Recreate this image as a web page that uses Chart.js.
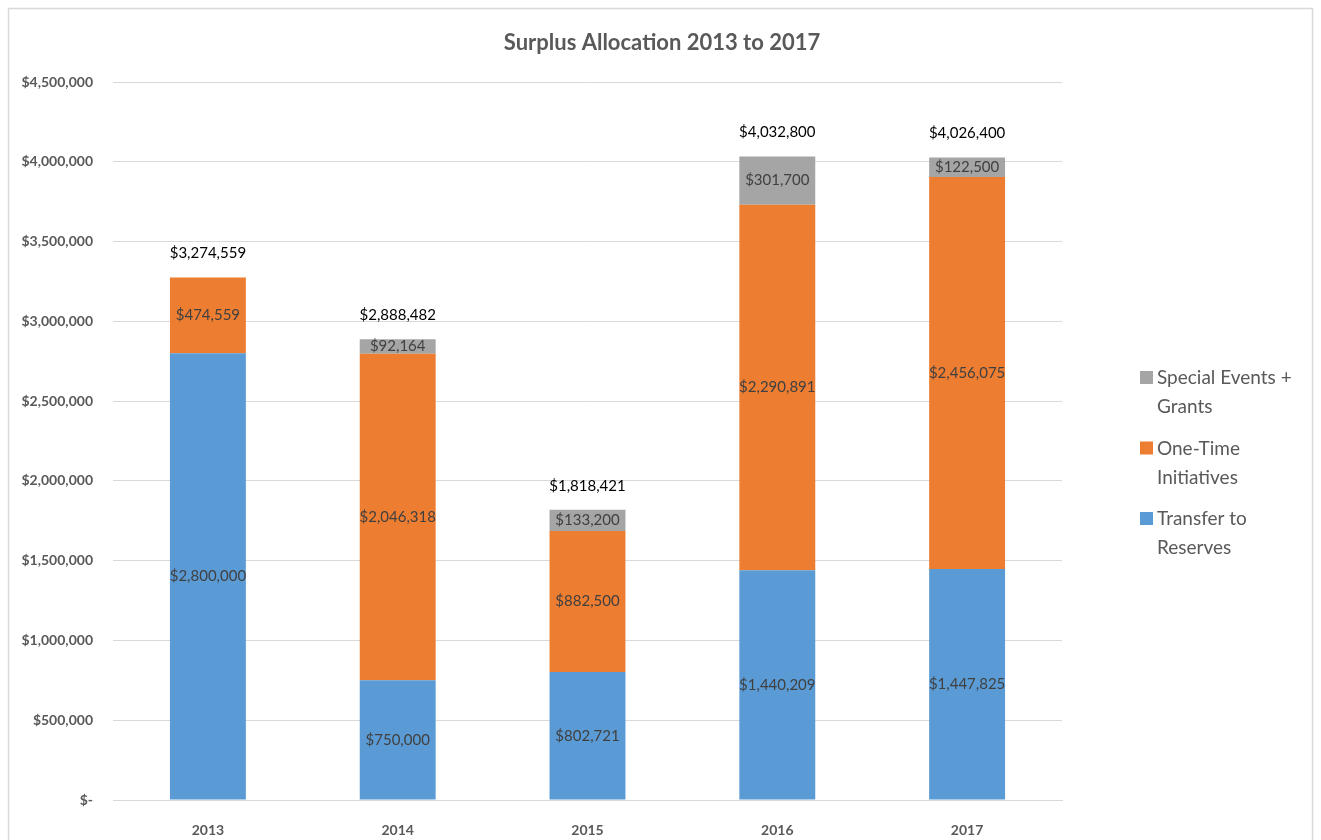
<!DOCTYPE html>
<html>
<head>
<meta charset="utf-8">
<script src="https://cdn.jsdelivr.net/npm/chart.js@4/dist/chart.umd.min.js"></script>
<style>
  html, body { margin: 0; padding: 0; background: #fff; overflow: hidden; }
  #wrap { position: relative; width: 1321px; height: 840px; }
</style>
</head>
<body>
<div id="wrap"><canvas id="grafico"></canvas></div>
<script>
const anios = ['2013', '2014', '2015', '2016', '2017'];
const reservas = [2800000, 750000, 802721, 1440209, 1447825];
const iniciativas = [474559, 2046318, 882500, 2290891, 2456075];
const eventos = [null, 92164, 133200, 301700, 122500];
const leyendaLineas = [
  ['Special Events +', 'Grants'],
  ['One-Time', 'Initiatives'],
  ['Transfer to', 'Reserves']
];
const titulo = 'Surplus Allocation 2013 to 2017';

const fuente = 'Lato, "Open Sans", sans-serif';
const money = v => '$' + Math.round(v).toLocaleString('en-US');

// etiquetas dentro de las barras + totales arriba
const etiquetas = {
  id: 'etiquetas',
  afterDatasetsDraw(chart) {
    const c = chart.ctx;
    c.save();
    c.textAlign = 'center';
    c.textBaseline = 'middle';
    c.font = '15px ' + fuente;
    c.fillStyle = '#404040';
    chart.data.datasets.forEach((ds, i) => {
      chart.getDatasetMeta(i).data.forEach((bar, j) => {
        const v = ds.data[j];
        if (!v) return;
        c.fillText(money(v), bar.x, (bar.y + bar.base) / 2);
      });
    });
    c.fillStyle = '#000';
    anios.forEach((a, j) => {
      const total = (reservas[j] || 0) + (iniciativas[j] || 0) + (eventos[j] || 0);
      const y = chart.scales.y.getPixelForValue(total);
      const x = chart.getDatasetMeta(0).data[j].x;
      c.fillText(money(total), x, y - 24);
    });
    c.restore();
  }
};

// leyenda a la derecha con texto en dos lineas, y titulo centrado en todo el grafico
const leyenda = {
  id: 'leyenda',
  afterDraw(chart) {
    const c = chart.ctx;
    c.save();
    c.font = 'bold 22px ' + fuente;
    c.fillStyle = '#595959';
    c.textAlign = 'center';
    c.textBaseline = 'middle';
    c.fillText(titulo, 662, 43);

    c.font = '19px ' + fuente;
    c.textAlign = 'left';
    const orden = [2, 1, 0];
    orden.forEach((dsi, k) => {
      const ds = chart.data.datasets[dsi];
      const y0 = 378 + k * 70.5;
      c.fillStyle = ds.backgroundColor;
      c.fillRect(1140, y0 - 7, 13, 13);
      c.fillStyle = '#595959';
      leyendaLineas[k].forEach((t, n) => c.fillText(t, 1157, y0 + n * 29));
    });
    c.restore();
  }
};

const marco = {
  id: 'marco',
  beforeDraw(chart) {
    const c = chart.ctx;
    c.save();
    c.fillStyle = '#fff';
    c.fillRect(0, 0, chart.width, chart.height);
    c.strokeStyle = '#d9d9d9';
    c.lineWidth = 1.5;
    c.strokeRect(8.5, 8.5, 1304, 845);
    c.restore();
  }
};

const ctx = document.getElementById('grafico').getContext('2d');
const chart = new Chart(ctx, {
  type: 'bar',
  data: {
    labels: anios,
    datasets: [
      { label: 'Transfer to Reserves', data: reservas, backgroundColor: '#5B9BD5' },
      { label: 'One-Time Initiatives', data: iniciativas, backgroundColor: '#ED7D31' },
      { label: 'Special Events + Grants', data: eventos, backgroundColor: '#A5A5A5' }
    ]
  },
  options: {
    responsive: true,
    maintainAspectRatio: false,
    animation: false,
    devicePixelRatio: 1,
    layout: { padding: { top: 8, right: 259, bottom: 0, left: 0 } },
    datasets: { bar: { barPercentage: 0.4, categoryPercentage: 1 } },
    plugins: {
      legend: { display: false },
      tooltip: { enabled: false },
      title: {
        // solo reserva el espacio; el texto se dibuja centrado en el plugin
        display: true,
        text: titulo,
        color: 'rgba(0,0,0,0)',
        font: { family: fuente, size: 20, weight: 'bold' },
        padding: { top: 22, bottom: 28 }
      }
    },
    scales: {
      x: {
        stacked: true,
        grid: { display: false },
        border: { color: '#d9d9d9' },
        ticks: { color: '#595959', font: { family: fuente, size: 14, weight: 'bold' }, padding: 14 },
        afterFit(s) { s.height = 40; }
      },
      y: {
        stacked: true,
        min: 0,
        max: 4500000,
        grid: { color: '#d9d9d9', drawTicks: false },
        border: { display: false },
        ticks: {
          stepSize: 500000,
          padding: 20,
          color: '#595959',
          font: { family: fuente, size: 14, weight: 'bold' },
          callback: v => v === 0 ? '$-' : money(v)
        },
        afterFit(s) { s.width = 113; }
      }
    }
  },
  plugins: [marco, etiquetas, leyenda]
});
</script>
</body>
</html>
